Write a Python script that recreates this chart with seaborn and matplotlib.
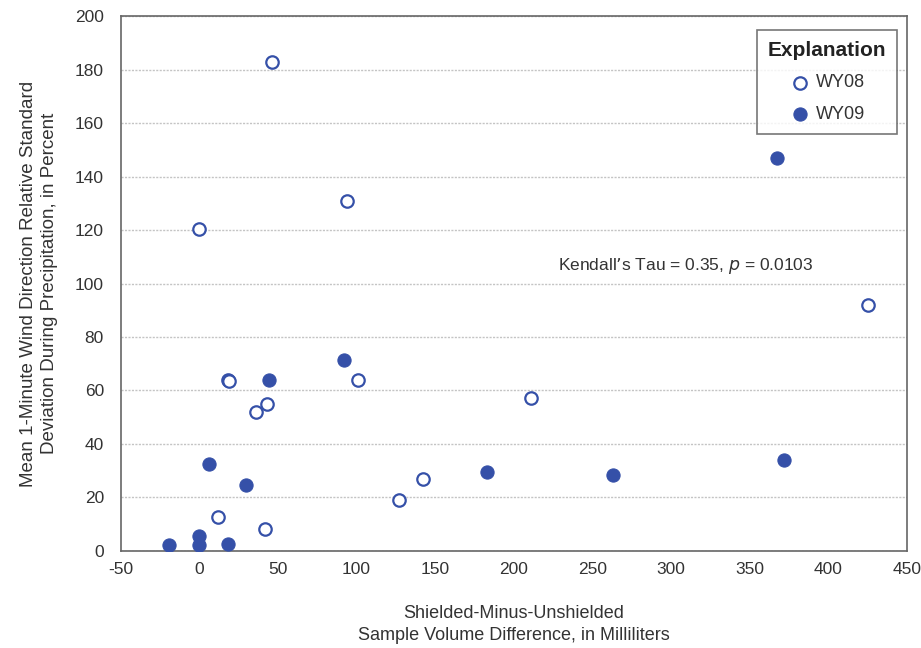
import matplotlib
matplotlib.use('Agg')
import matplotlib.pyplot as plt
import seaborn as sns
import pandas as pd

# WY08 (open circles)
wy08_x = [46, 94, 0, 425, 18, 19, 101, 211, 43, 36, 142, 127, 12, 42]
wy08_y = [183, 131, 120.5, 92, 64, 63.5, 64, 57, 55, 52, 27, 19, 12.5, 8]
# WY09 (filled circles)
wy09_x = [367, 92, 44, 6, 30, 183, 263, 372, -19, 0, 0, 18]
wy09_y = [147, 71.5, 64, 32.5, 24.5, 29.5, 28.5, 34, 2.3, 5.6, 2.2, 2.5]

x_ticks = [-50, 0, 50, 100, 150, 200, 250, 300, 350, 400, 450]
y_ticks = [0, 20, 40, 60, 80, 100, 120, 140, 160, 180, 200]

sns.set_style('white')
plt.rcParams['font.family'] = ['Liberation Sans', 'DejaVu Sans']
plt.rcParams['axes.unicode_minus'] = False

blue = '#3550a8'
df08 = pd.DataFrame({'x': wy08_x, 'y': wy08_y})
df09 = pd.DataFrame({'x': wy09_x, 'y': wy09_y})

fig, ax = plt.subplots(figsize=(9.21, 6.48), dpi=100)
fig.subplots_adjust(left=0.131, right=0.985, top=0.975, bottom=0.150)

sns.scatterplot(data=df08, x='x', y='y', ax=ax, marker='o', s=80,
                facecolor='white', edgecolor=blue, linewidth=1.6, label='WY08', zorder=3)
sns.scatterplot(data=df09, x='x', y='y', ax=ax, marker='o', s=90,
                color=blue, edgecolor=blue, linewidth=0.8, label='WY09', zorder=3)

ax.set_xlim(-50, 450)
ax.set_ylim(0, 200)
ax.set_xticks(x_ticks)
ax.set_yticks(y_ticks)
ax.tick_params(axis='x', direction='in', length=5, color='#555555', labelsize=12.5, pad=8, labelcolor='#333333')
ax.tick_params(axis='y', length=0, labelsize=12.5, pad=12, labelcolor='#333333')
ax.yaxis.grid(True, color='#c4c4c4', linestyle=(0, (1.5, 1)), linewidth=1.0)
for s in ax.spines.values():
    s.set_color('#666666')
    s.set_linewidth(1.2)

ax.set_xlabel('Shielded-Minus-Unshielded\nSample Volume Difference, in Milliliters',
              fontsize=13, color='#333333', labelpad=20, linespacing=1.4)
ax.set_ylabel('Mean 1-Minute Wind Direction Relative Standard\nDeviation During Precipitation, in Percent',
              fontsize=13.5, color='#333333', labelpad=12, linespacing=1.3)

ax.text(228, 106.5, "Kendall\u2019s Tau = 0.35, $\\it{p}$ = 0.0103", fontsize=12.5,
        color='#333333', va='center', ha='left')

leg = ax.legend(title='Explanation', loc='upper right', bbox_to_anchor=(0.987, 0.974),
                borderaxespad=0, fontsize=13, title_fontsize=15, frameon=True, fancybox=False,
                handletextpad=0.3, borderpad=0.6, labelspacing=0.8, handlelength=1.2)
leg.get_title().set_fontweight('bold')
leg.get_title().set_color('#222222')
leg.get_frame().set_edgecolor('#555555')
leg.get_frame().set_linewidth(1.2)
for t in leg.get_texts():
    t.set_color('#333333')

fig.savefig('out.png', dpi=100)
